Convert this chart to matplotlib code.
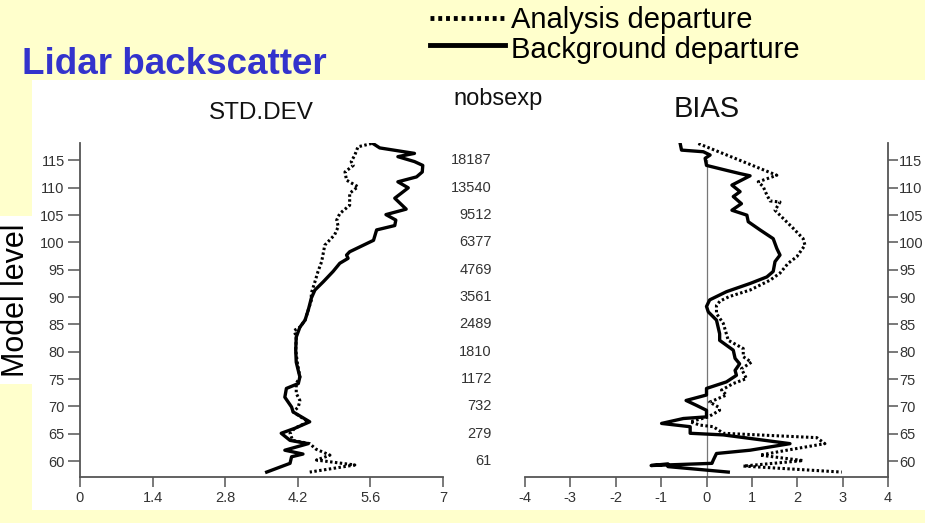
import matplotlib
matplotlib.use("Agg")
import matplotlib.pyplot as plt
import matplotlib.transforms as mtransforms
from matplotlib.patches import Rectangle
from matplotlib.lines import Line2D

plt.rcParams['font.family'] = ['Liberation Sans', 'DejaVu Sans']
plt.rcParams['axes.unicode_minus'] = False

# STD.DEV panel (model level, value)
std_bg_lev = [118.1, 117.3, 116.3, 115.7, 114.8, 114.1, 112.9, 112.0, 111.1, 110.0, 108.1, 106.1,
              105.1, 104.1, 103.1, 102.3, 100.4, 98.3, 97.7, 97.1, 96.2, 94.7, 92.8, 91.3, 89.8,
              88.3, 87.6, 85.8, 84.5, 82.7, 80.3, 78.1, 75.4, 74.2, 73.3, 71.7, 69.9, 69.0, 67.2,
              66.0, 65.1, 63.8, 63.2, 62.0, 61.3, 60.8, 59.6, 58.0]
std_bg_val = [5.65, 5.78, 6.45, 6.13, 6.45, 6.61, 6.60, 6.49, 6.13, 6.33, 6.07, 6.29,
              5.90, 6.09, 6.07, 5.72, 5.66, 5.20, 5.14, 5.17, 5.01, 4.88, 4.69, 4.53, 4.46,
              4.42, 4.40, 4.34, 4.24, 4.17, 4.16, 4.17, 4.24, 4.21, 3.98, 3.95, 4.08, 4.11, 4.43,
              4.14, 3.88, 4.05, 4.40, 3.95, 4.30, 4.08, 4.05, 3.60]

std_an_lev = [118.1, 117.5, 116.0, 114.8, 114.1, 112.9, 111.4, 110.2, 109.0, 106.8, 105.3, 104.1,
              102.9, 101.4, 99.5, 98.0, 96.5, 94.7, 92.8, 90.7, 89.4, 87.6, 85.8, 84.5, 83.9,
              82.7, 80.3, 78.1, 75.4, 74.2, 72.4, 71.1, 69.9, 69.0, 67.2, 66.0, 65.1, 63.8, 63.2,
              62.2, 61.1, 60.2, 59.3, 58.0]
std_an_val = [5.62, 5.36, 5.30, 5.23, 5.27, 5.11, 5.14, 5.36, 5.20, 5.20, 5.01, 4.95,
              4.98, 4.91, 4.72, 4.69, 4.66, 4.59, 4.53, 4.46, 4.46, 4.40, 4.34, 4.24, 4.13,
              4.17, 4.16, 4.19, 4.24, 4.17, 4.17, 4.24, 4.21, 4.11, 4.40, 4.14, 4.05, 4.10, 4.43,
              4.55, 4.82, 4.56, 5.30, 4.43]

# BIAS panel
bias_bg_lev = [118.1, 116.9, 116.6, 116.0, 115.4, 114.1, 113.2, 112.6, 112.2, 110.5, 109.3, 108.4,
               107.1, 105.9, 105.0, 103.8, 102.3, 100.7, 98.9, 97.7, 96.5, 94.7, 93.7, 92.5, 91.0,
               89.5, 88.3, 87.3, 85.8, 83.3, 82.1, 80.3, 78.8, 77.8, 76.6, 75.7, 74.5, 73.3, 72.1,
               71.1, 70.2, 69.3, 68.1, 67.8, 66.9, 66.3, 65.1, 64.8, 63.2, 62.0, 61.4, 60.2, 59.6,
               59.2, 59.5, 59.0, 58.0]
bias_bg_val = [-0.58, -0.55, -0.07, 0.08, -0.03, 0.00, 0.44, 0.74, 0.96, 0.56, 0.74, 0.59,
               0.77, 0.56, 0.89, 0.92, 1.18, 1.47, 1.55, 1.62, 1.51, 1.47, 1.33, 0.96, 0.44,
               0.07, 0.00, 0.04, 0.22, 0.29, 0.29, 0.59, 0.63, 0.73, 0.63, 0.66, 0.44, 0.00, 0.00,
               -0.45, -0.22, 0.00, 0.00, -0.51, -0.99, -0.36, -0.36, 0.37, 1.84, 0.96, 0.22, 0.15, 0.12,
               -1.22, -0.85, -0.85, 0.48]

bias_an_lev = [118.1, 112.3, 111.1, 110.2, 108.7, 107.6, 107.4, 105.9, 104.4, 102.6, 100.7, 99.5,
               97.4, 96.2, 94.4, 93.1, 91.3, 90.1, 89.3, 88.5, 87.0, 85.2, 82.1, 80.6, 79.1,
               78.1, 76.9, 75.1, 74.2, 73.0, 72.1, 70.8, 69.9, 69.3, 68.1, 67.2, 66.6, 66.3, 65.1,
               64.3, 63.2, 62.0, 61.1, 60.1, 59.1, 58.0]
bias_an_val = [-0.18, 1.55, 1.14, 1.25, 1.33, 1.40, 1.62, 1.51, 1.69, 1.91, 2.13, 2.17,
               1.99, 1.80, 1.62, 1.40, 0.96, 0.50, 0.30, 0.22, 0.22, 0.37, 0.48, 0.81, 0.81,
               0.99, 0.77, 0.88, 0.59, 0.33, 0.44, 0.07, 0.26, 0.29, 0.04, -0.36, -0.15, 0.15, 0.37,
               2.43, 2.61, 1.77, 1.18, 2.13, 0.81, 2.98]

level_ticks = [60, 65, 70, 75, 80, 85, 90, 95, 100, 105, 110, 115]
nobsexp = ['61', '279', '732', '1172', '1810', '2489', '3561', '4769', '6377', '9512', '13540', '18187']
std_ticks = [0, 1.4, 2.8, 4.2, 5.6, 7]
std_labels = ['0', '1.4', '2.8', '4.2', '5.6', '7']
bias_ticks = [-4, -3, -2, -1, 0, 1, 2, 3, 4]

W, H = 925, 523
fig = plt.figure(figsize=(W / 100, H / 100), dpi=100, facecolor='#FFFFCC')

# white plotting area (behind the axes)
fig.patches.append(Rectangle((32 / W, 1 - 510 / H), 1 - 32 / W, (510 - 80) / H,
                             transform=fig.transFigure, facecolor='white', edgecolor='none', zorder=-5))

ylo, yhi = 57.1, 118.2
ax1 = fig.add_axes([80 / W, 1 - 477 / H, (443 - 80) / W, (477 - 143) / H])
ax2 = fig.add_axes([525 / W, 1 - 477 / H, (888 - 525) / W, (477 - 143) / H])

dot = (0, (0.8, 0.8))
for ax in (ax1, ax2):
    ax.set_facecolor('none')
    ax.set_zorder(2)
    ax.set_ylim(ylo, yhi)
    ax.spines['top'].set_visible(False)
    for s in ax.spines.values():
        s.set_color('#555555')
        s.set_linewidth(1.3)
    ax.tick_params(colors='#555555', labelcolor='#333333', labelsize=10.5, width=1.1)
    ax.set_yticks(level_ticks)

ax1.plot(std_an_val, std_an_lev, color='black', lw=2.2, ls=dot)
ax1.plot(std_bg_val, std_bg_lev, color='black', lw=2.4)
ax1.set_xlim(0, 7)
ax1.set_xticks(std_ticks)
ax1.set_xticklabels(std_labels)
ax1.spines['right'].set_visible(False)
ax1.tick_params(axis='y', length=9, pad=2)
ax1.tick_params(axis='x', length=7, pad=3)

ax2.axvline(0, ymax=0.95, color='#777777', lw=0.9)
ax2.plot(bias_an_val, bias_an_lev, color='black', lw=2.2, ls=dot)
ax2.plot(bias_bg_val, bias_bg_lev, color='black', lw=2.4)
ax2.set_xlim(-4, 4)
ax2.set_xticks(bias_ticks)
ax2.spines['left'].set_visible(False)
ax2.yaxis.tick_right()
ax2.tick_params(axis='y', length=7, pad=1)
ax2.tick_params(axis='x', length=7, pad=3)

# nobsexp column
tr = mtransforms.blended_transform_factory(fig.transFigure, ax1.transData)
for lev, n in zip(level_ticks, nobsexp):
    fig.text(492 / W, lev, n, transform=tr, ha='right', va='center', fontsize=10.5, color='#333333')

# titles and labels
fig.text(261 / W, 1 - 119 / H, 'STD.DEV', ha='center', va='baseline', fontsize=17.5, color='#111111')
fig.text(498 / W, 1 - 105 / H, 'nobsexp', ha='center', va='baseline', fontsize=17, color='#111111')
fig.text(707 / W, 1 - 117 / H, 'BIAS', ha='center', va='baseline', fontsize=21, color='#111111')
fig.text(22 / W, 1 - 74 / H, 'Lidar backscatter', ha='left', va='baseline', fontsize=26.5,
         fontweight='bold', color='#3333CC')
fig.text(16 / W, 1 - 300 / H, 'Model level', rotation=90, ha='center', va='center', fontsize=22,
         color='black', bbox=dict(facecolor='white', edgecolor='none', pad=5))

# legend
fig.lines.append(Line2D([430 / W, 505 / W], [1 - 18 / H, 1 - 18 / H], transform=fig.transFigure,
                        color='black', lw=3.5, ls=(0, (0.8, 0.8))))
fig.lines.append(Line2D([430 / W, 505 / W], [1 - 45 / H, 1 - 45 / H], transform=fig.transFigure,
                        color='black', lw=3.5))
fig.text(511 / W, 1 - 28 / H, 'Analysis departure', ha='left', va='baseline', fontsize=21)
fig.text(511 / W, 1 - 58 / H, 'Background departure', ha='left', va='baseline', fontsize=21)

fig.savefig('out.png', dpi=100, facecolor=fig.get_facecolor())
